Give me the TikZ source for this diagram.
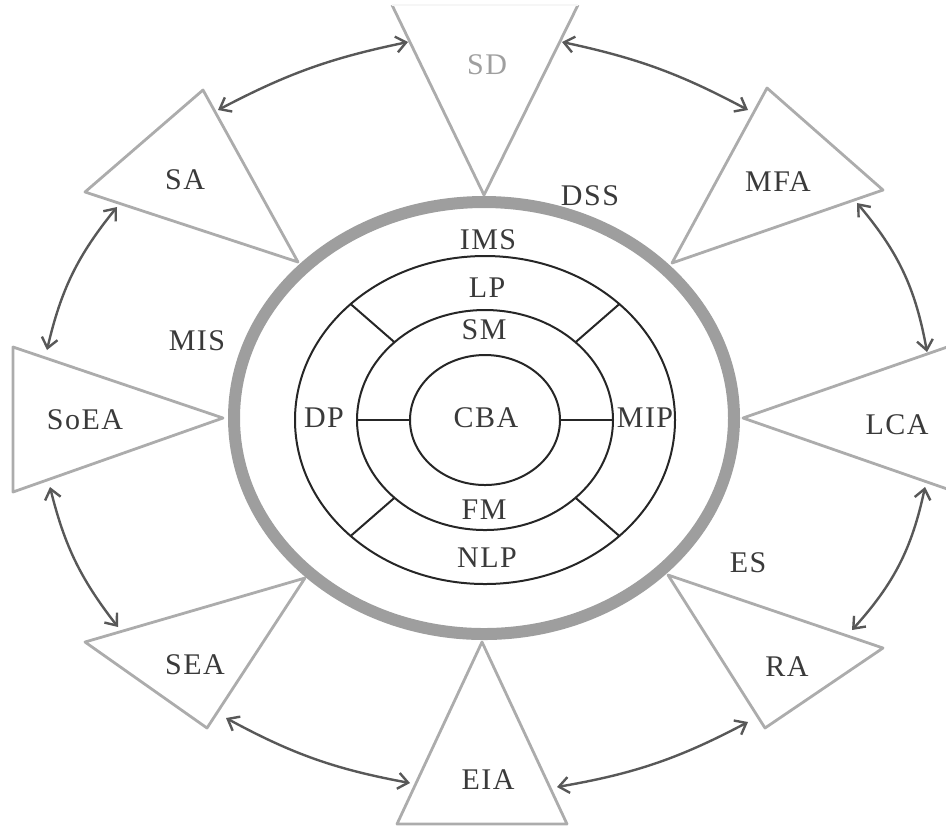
\documentclass[tikz,border=0pt]{standalone}
\usepackage{fontspec}
\setmainfont[LetterSpace=5]{Liberation Serif}
\usetikzlibrary{arrows.meta,calc}
\definecolor{ringgray}{RGB}{158,158,158}
\definecolor{trigray}{RGB}{172,172,172}
\definecolor{arrowgray}{RGB}{88,88,88}
\definecolor{inkdark}{RGB}{38,38,38}
\definecolor{labelgray}{RGB}{58,58,58}

\begin{document}
\begin{tikzpicture}[x=0.5pt,y=-0.5pt,
  tri/.style={draw=trigray, line width=1.4pt, line join=round},
  ringline/.style={draw=inkdark, line width=1pt},
  link/.style={draw=arrowgray, line width=1.2pt,
    {Straight Barb[length=5pt,width=8pt]}-{Straight Barb[length=5pt,width=8pt]}},
  lbl/.style={text=labelgray, font=\fontsize{15}{17}\selectfont, inner sep=1pt}
]
\useasboundingbox (0,0) rectangle (946,827);

% --- Centre rings ---
\coordinate (core) at (485,420);
\draw[ringgray, line width=6pt] (484,418) ellipse [x radius=250, y radius=216];
\draw[ringline] (core) ellipse [x radius=190, y radius=164];
\draw[ringline] (core) ellipse [x radius=128, y radius=110];
\draw[ringline] (core) ellipse [x radius=75, y radius=65];

% spokes
\foreach \ang in {45,135,225,315}
  \draw[ringline] ($(core)+(\ang:190 and 164)$) -- ($(core)+(\ang:128 and 110)$);
\foreach \ang in {0,180}
  \draw[ringline] ($(core)+(\ang:128 and 110)$) -- ($(core)+(\ang:75 and 65)$);

% ring labels
\node[lbl] (ims) at (488,240) {IMS};
\node[lbl] (lp)  at (487,288) {LP};
\node[lbl] (sm)  at (484,330) {SM};
\node[lbl] (cba) at (486,418) {CBA};
\node[lbl] (fm)  at (484,510) {FM};
\node[lbl] (nlp) at (487,558) {NLP};
\node[lbl] (dp)  at (324,418) {DP};
\node[lbl] (mip) at (645,418) {MIP};

% --- Triangles ---
\coordinate (sd-a) at (484,195);   \coordinate (sd-b) at (392,5);    \coordinate (sd-c) at (578,5);
\coordinate (mfa-a) at (672,263);  \coordinate (mfa-b) at (767,88);  \coordinate (mfa-c) at (883,190);
\coordinate (lca-a) at (743,418);  \coordinate (lca-b) at (953,345); \coordinate (lca-c) at (953,491);
\coordinate (ra-a) at (668,575);   \coordinate (ra-b) at (883,648);  \coordinate (ra-c) at (765,728);
\coordinate (eia-a) at (482,642);  \coordinate (eia-b) at (567,824); \coordinate (eia-c) at (397,824);
\coordinate (sea-a) at (305,578);  \coordinate (sea-b) at (207,728); \coordinate (sea-c) at (85,642);
\coordinate (soea-a) at (223,418); \coordinate (soea-b) at (13,492); \coordinate (soea-c) at (13,347);
\coordinate (sa-a) at (298,262);   \coordinate (sa-b) at (85,192);   \coordinate (sa-c) at (203,90);

\draw[tri] (sd-b) -- (sd-a) -- (sd-c);
\draw[gray!7, line width=1.4pt] (sd-b) -- (sd-c);
\foreach \t in {mfa,lca,ra,eia,sea,soea,sa}
  \draw[tri] (\t-a) -- (\t-b) -- (\t-c) -- cycle;

\node[lbl, text=gray!75] (sd) at (487,65) {SD};
\node[lbl] (mfa)  at (778,182) {MFA};
\node[lbl] (lca)  at (897,425) {LCA};
\node[lbl] (ra)   at (787,667) {RA};
\node[lbl] (eia)  at (488,780) {EIA};
\node[lbl] (sea)  at (195,665) {SEA};
\node[lbl] (soea) at (85,420)  {SoEA};
\node[lbl] (sa)   at (185,180) {SA};

% gaps
\node[lbl] (dss) at (590,196) {DSS};
\node[lbl] (mis) at (197,341) {MIS};
\node[lbl] (es)  at (748,563) {ES};

% --- Links between triangles ---
\coordinate (sa-r) at (218,110);   \coordinate (sd-l) at (408,42);
\coordinate (sd-r) at (562,42);    \coordinate (mfa-l) at (748,110);
\coordinate (mfa-r) at (857,203);  \coordinate (lca-t) at (927,352);
\coordinate (lca-d) at (925,487);  \coordinate (ra-t) at (852,630);
\coordinate (ra-l) at (748,722);   \coordinate (eia-r) at (557,787);
\coordinate (eia-l) at (410,783);  \coordinate (sea-r) at (226,718);
\coordinate (sea-t) at (118,627);  \coordinate (soea-d) at (50,487);
\coordinate (soea-t) at (47,350);  \coordinate (sa-l) at (117,207);

\draw[link] (sa-r) to[bend left=8] (sd-l);
\draw[link] (sd-r) to[bend left=8] (mfa-l);
\draw[link] (mfa-r) to[bend left=15] (lca-t);
\draw[link] (lca-d) to[bend left=15] (ra-t);
\draw[link] (ra-l) to[bend left=9] (eia-r);
\draw[link] (eia-l) to[bend left=9] (sea-r);
\draw[link] (sea-t) to[bend left=12] (soea-d);
\draw[link] (soea-t) to[bend left=13] (sa-l);

\end{tikzpicture}
\end{document}
